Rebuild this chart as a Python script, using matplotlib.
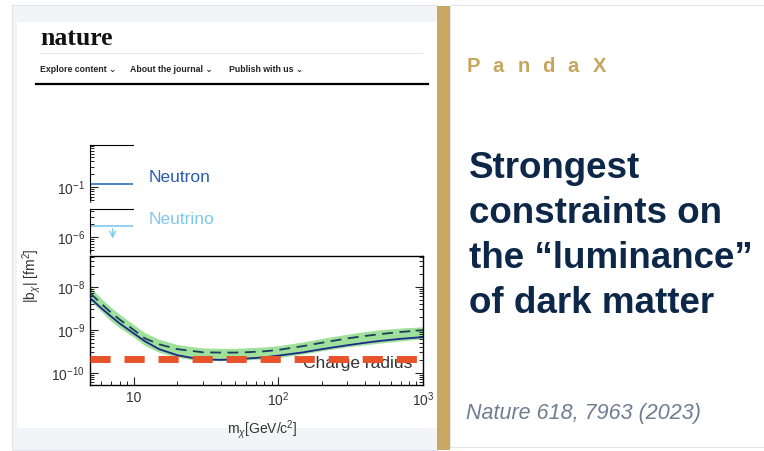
import matplotlib.pyplot as plt
from matplotlib.patches import Rectangle
from matplotlib.ticker import LogLocator, NullFormatter

plt.rcParams['font.family'] = ['Liberation Sans', 'DejaVu Sans']
plt.rcParams['mathtext.fontset'] = 'custom'
plt.rcParams['mathtext.rm'] = 'Liberation Sans'
plt.rcParams['mathtext.it'] = 'Liberation Sans:italic'

# dark matter mass [GeV/c^2]
mass = [5, 6, 7, 8, 10, 12, 15, 20, 25, 30, 40, 50, 60, 80, 100,
        150, 200, 300, 400, 500, 700, 1000]
# observed upper limit on |b_chi| [fm^2]
observed = [5.5e-9, 3.16e-9, 2.04e-9, 1.41e-9, 8.3e-10, 5.4e-10, 3.55e-10,
            2.57e-10, 2.24e-10, 2.04e-10, 2.0e-10, 2.04e-10, 2.14e-10, 2.29e-10,
            2.51e-10, 3.0e-10, 3.55e-10, 4.37e-10, 5.0e-10, 5.5e-10, 6.17e-10, 6.76e-10]
# median sensitivity and its band
median = [7.2e-9, 4.0e-9, 2.5e-9, 1.74e-9, 1.0e-9, 6.3e-10, 4.6e-10,
          3.55e-10, 3.24e-10, 3.0e-10, 2.95e-10, 2.95e-10, 3.0e-10, 3.16e-10,
          3.4e-10, 4.2e-10, 5.0e-10, 6.3e-10, 7.2e-10, 7.9e-10, 8.9e-10, 9.8e-10]
band_hi = [1.0e-8, 5.25e-9, 3.3e-9, 2.3e-9, 1.32e-9, 8.5e-10, 6.0e-10,
           4.57e-10, 4.07e-10, 3.8e-10, 3.7e-10, 3.7e-10, 3.8e-10, 3.98e-10,
           4.27e-10, 5.25e-10, 6.3e-10, 7.9e-10, 9.1e-10, 1.0e-9, 1.1e-9, 1.17e-9]
band_lo = [4.8e-9, 2.63e-9, 1.58e-9, 1.12e-9, 6.8e-10, 4.27e-10, 3.0e-10,
           2.3e-10, 2.04e-10, 1.95e-10, 1.9e-10, 1.95e-10, 2.0e-10, 2.1e-10,
           2.24e-10, 2.75e-10, 3.24e-10, 4.0e-10, 4.47e-10, 4.9e-10, 5.5e-10, 6.2e-10]
charge_radius = 2.1e-10
neutron = 0.116
neutrino = 1.8e-6

xtick_vals = [10, 100, 1000]
xtick_labels = ["10", "$10^{2}$", "$10^{3}$"]

nav_items = ["Explore content ⌄", "About the journal ⌄", "Publish with us ⌄"]
nav_x = [40, 130, 229]
title_lines = ["Strongest", "constraints on", "the \u201cluminance\u201d", "of dark matter"]

W, H = 764, 451
fig = plt.figure(figsize=(W / 100, H / 100), dpi=100)


def box(x0, y0, x1, y1):
    return [x0 / W, 1 - y1 / H, (x1 - x0) / W, (y1 - y0) / H]


# --- page background in pixel coords ---
bg = fig.add_axes([0, 0, 1, 1], zorder=0)
bg.set_xlim(0, W)
bg.set_ylim(H, 0)
bg.axis('off')
bg.add_patch(Rectangle((12, 5), 425, 445, facecolor='#f3f4f8', edgecolor='#e3e5eb', lw=0.8))
bg.add_patch(Rectangle((17, 22), 420, 406, facecolor='white', edgecolor='none'))
bg.add_patch(Rectangle((450, 5), 320, 442, facecolor='white', edgecolor='#e3e5eb', lw=0.8))
bg.add_patch(Rectangle((437, 6), 13, 444, facecolor='#c9a862', edgecolor='none'))

bg.text(40, 45, "nature", family='Liberation Serif', weight='bold', fontsize=18.5,
        color='#111111', va='baseline')
bg.plot([40, 422], [53, 53], color='#e8e8e8', lw=0.8)
for x, item in zip(nav_x, nav_items):
    bg.text(x, 70, item, fontsize=6.3, weight='bold', color='#222222', va='center',
            family=['Liberation Sans', 'DejaVu Sans'])
bg.plot([36, 428], [84, 84], color='black', lw=1.6)

bg.text(149, 177, "Neutron", fontsize=12.5, color='#2a5cb0', va='center')
bg.text(149, 220, "Neutrino", fontsize=12.5, color='#7ec8ee', va='center')

for i, ch in enumerate("PandaX"):
    bg.text(467 + i * 25.2, 66, ch, fontsize=14.5, weight='bold', color='#c9a55c', va='center')
for i, line in enumerate(title_lines):
    bg.text(469, 178 + i * 45, line, fontsize=26.5, weight='bold', color='#0d2748',
            va='baseline')
bg.text(466, 419, "Nature 618, 7963 (2023)", fontsize=15.5, style='italic',
        color='#6e7d92', va='baseline')

tick_kw = dict(direction='in', colors='#222222', labelcolor='#333333', labelsize=10)

# --- upper panel: neutron ---
a1 = fig.add_axes(box(90, 145, 133, 200), zorder=2)
a1.set_facecolor('none')
a1.set_xscale('log')
a1.set_yscale('log')
a1.set_xlim(5, 10)
a1.set_ylim(0.05, 0.95)
a1.axhline(neutron, color='#3b78c8', lw=1.3)
a1.set_yticks([0.1])
a1.set_yticklabels(["$10^{-1}$"])
a1.yaxis.set_minor_locator(LogLocator(base=10, subs=range(2, 10)))
a1.yaxis.set_minor_formatter(NullFormatter())
for s in ['right', 'bottom']:
    a1.spines[s].set_visible(False)
a1.set_xticks([])
a1.xaxis.set_minor_locator(plt.NullLocator())
a1.tick_params(axis='y', which='major', length=6, **tick_kw)
a1.tick_params(axis='y', which='minor', length=3, direction='in')
a1.text(0, 0, "\u2240", transform=a1.transAxes, ha='center', va='center',
        fontsize=7, family='DejaVu Sans', clip_on=False)

# --- upper panel: neutrino ---
a2 = fig.add_axes(box(90, 209, 133, 252), zorder=2)
a2.set_facecolor('none')
a2.set_xscale('log')
a2.set_yscale('log')
a2.set_xlim(5, 10)
a2.set_ylim(4.5e-7, 4.5e-6)
a2.axhline(neutrino, color='#7ec8ee', lw=1.2)
a2.annotate("", xy=(7.2, 8e-7), xytext=(7.2, neutrino),
            arrowprops=dict(arrowstyle='->', color='#7ec8ee', lw=1.0))
a2.set_yticks([1e-6])
a2.set_yticklabels(["$10^{-6}$"])
a2.yaxis.set_minor_locator(LogLocator(base=10, subs=range(2, 10)))
a2.yaxis.set_minor_formatter(NullFormatter())
for s in ['right', 'bottom']:
    a2.spines[s].set_visible(False)
a2.set_xticks([])
a2.xaxis.set_minor_locator(plt.NullLocator())
a2.tick_params(axis='y', which='major', length=6, **tick_kw)
a2.tick_params(axis='y', which='minor', length=3, direction='in')
a2.text(0, 0, "\u2240", transform=a2.transAxes, ha='center', va='center',
        fontsize=7, family='DejaVu Sans', clip_on=False)

# --- main panel ---
ax = fig.add_axes(box(90, 256, 423, 385), zorder=2)
ax.set_facecolor('none')
ax.set_xscale('log')
ax.set_yscale('log')
ax.set_xlim(5, 1000)
ax.set_ylim(5.2e-11, 5.2e-8)
ax.fill_between(mass, band_lo, band_hi, color='#9fe09a', lw=0, zorder=1)
ax.plot(mass, median, color='#1c3d5e', lw=1.3, dashes=[6, 3.6], zorder=3)
ax.plot(mass, observed, color='#1b2a8a', lw=1.3, zorder=3)
ax.text(353, 1.3e-10, "Charge radius", fontsize=12.5, color='#333333',
        ha='center', va='baseline', zorder=2)
ax.axhline(charge_radius, color='#e8532a', lw=5, dashes=[2.9, 2.0], zorder=4)

ax.set_xticks(xtick_vals)
ax.set_xticklabels(xtick_labels)
ax.xaxis.set_minor_locator(LogLocator(base=10, subs=range(2, 10)))
ax.xaxis.set_minor_formatter(NullFormatter())
ax.set_yticks([1e-10, 1e-9, 1e-8])
ax.set_yticklabels(["$10^{-10}$", "$10^{-9}$", "$10^{-8}$"])
ax.yaxis.set_minor_locator(LogLocator(base=10, subs=range(2, 10)))
ax.yaxis.set_minor_formatter(NullFormatter())
ax.tick_params(which='major', length=6, right=True, **tick_kw)
ax.tick_params(which='minor', length=3, direction='in', right=True)
ax.tick_params(axis='x', pad=4)
for s in ax.spines.values():
    s.set_linewidth(1.0)

ax.set_ylabel(r"|b$_{\chi}$| [fm$^{2}$]", fontsize=10, color='#333333')
ax.yaxis.set_label_coords(-0.141, 0.85)
ax.set_xlabel(r"m$_{\chi}$[GeV/c$^{2}$]", fontsize=10, color='#333333')
ax.xaxis.set_label_coords(0.517, -0.256)

fig.savefig("out.png", dpi=100)
